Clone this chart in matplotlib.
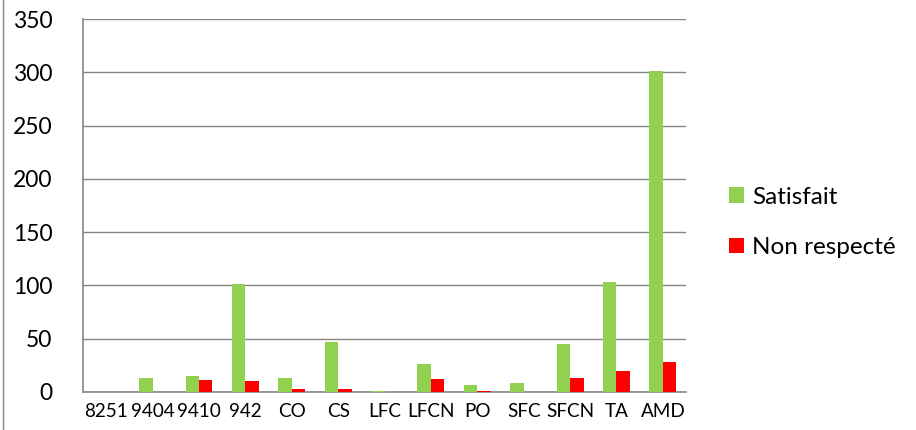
import numpy as np
import matplotlib.pyplot as plt
from matplotlib.lines import Line2D

categories = ['8251', '9404', '9410', '942', 'CO', 'CS', 'LFC', 'LFCN',
              'PO', 'SFC', 'SFCN', 'TA', 'AMD']
satisfait = [0, 13, 15, 101, 13, 47, 1, 26, 7, 8, 45, 103, 301]
non_respecte = [0, 0, 11, 10, 3, 3, 0, 12, 1, 0, 13, 20, 28]

plt.rcParams['font.family'] = ['Lato', 'DejaVu Sans']

fig = plt.figure(figsize=(9.16, 4.30), dpi=100, facecolor='white')
ax = fig.add_axes([0.0906, 0.0884, 0.6584, 0.8674])

x = np.arange(len(categories))
w = 0.29
ax.bar(x - w / 2, satisfait, w, color='#92D050', label='Satisfait', zorder=3)
ax.bar(x + w / 2, non_respecte, w, color='#FF0000', label='Non respecté', zorder=3)

ax.set_xlim(-0.5, len(categories) - 0.5)
ax.set_ylim(0, 350)
ax.set_yticks(range(0, 351, 50))
ax.set_xticks(x)
ax.set_xticklabels(categories, fontsize=13.6)
ax.tick_params(axis='y', length=0, labelsize=16.5, colors='black', pad=22)
ax.tick_params(axis='x', length=0, colors='black', pad=8)
ax.grid(axis='y', color='#868686', linewidth=1)
for s in ['top', 'right']:
    ax.spines[s].set_visible(False)
for s in ['left', 'bottom']:
    ax.spines[s].set_color('#868686')
    ax.spines[s].set_linewidth(1.2)

ax.legend(loc='center left', bbox_to_anchor=(1.027, 0.455), frameon=False,
          fontsize=17.5, handlelength=0.6, handleheight=0.6,
          labelspacing=1.2, handletextpad=0.35, borderpad=0.6)

# left edge of the chart frame
fig.add_artist(Line2D([0.003, 0.003], [0, 1], transform=fig.transFigure,
                      color='#868686', linewidth=1))

fig.savefig('out.png', dpi=100, facecolor='white')
